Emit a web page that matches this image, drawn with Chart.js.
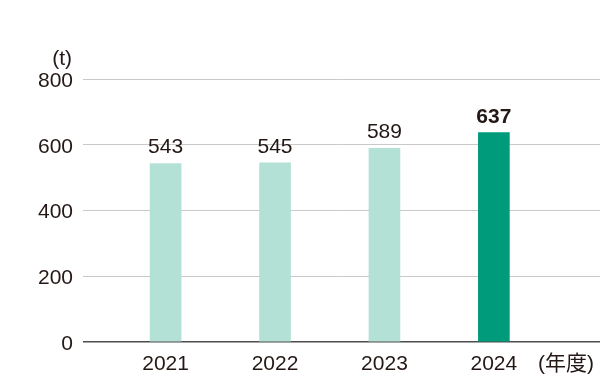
<!DOCTYPE html>
<html>
<head>
  <meta charset="UTF-8" />
  <title>Volume by fiscal year</title>
  <script src="https://cdn.jsdelivr.net/npm/chart.js"></script>
  <style>
    html, body { margin: 0; padding: 0; background: #fff; }
    #wrap { width: 600px; height: 378px; }
  </style>
</head>
<body>
  <div id="wrap"><canvas id="chart"></canvas></div>
  <script>
    const years = [2021, 2022, 2023, 2024];
    const values = [543, 545, 589, 637];
    const yTicks = [0, 200, 400, 600, 800];
    const unitLabel = '(t)';
    const yearLabel = '(年度)';

    const light = '#b3e1d6';
    const dark = '#009b7b';
    const textColor = '#231815';
    const font = 'Arial, "Liberation Sans", Helvetica, sans-serif';
    const cjkFont = 'Arial, "Noto Sans CJK JP", sans-serif';

    const extras = {
      id: 'extras',
      afterDatasetsDraw(chart) {
        const ctx = chart.ctx;
        const meta = chart.getDatasetMeta(0);
        ctx.save();
        ctx.fillStyle = textColor;
        ctx.textAlign = 'center';
        ctx.textBaseline = 'alphabetic';
        meta.data.forEach((bar, i) => {
          const last = i === values.length - 1;
          ctx.font = (last ? 'bold ' : '') + '21px ' + font;
          ctx.fillText(String(values[i]), bar.x, bar.y - 10);
        });
        ctx.font = '21px ' + font;
        ctx.textAlign = 'right';
        ctx.fillText(unitLabel, chart.chartArea.left - 11, chart.chartArea.top - 14);
        ctx.font = '21px ' + cjkFont;
        ctx.textAlign = 'left';
        ctx.textBaseline = 'middle';
        ctx.fillText(yearLabel, chart.chartArea.right - 62, chart.chartArea.bottom + 22);
        ctx.restore();
      }
    };

    new Chart(document.getElementById('chart'), {
      type: 'bar',
      data: {
        datasets: [{
          data: years.map((y, i) => ({ x: y, y: values[i] })),
          backgroundColor: years.map((y, i) => i === years.length - 1 ? dark : light),
          barThickness: 31
        }]
      },
      options: {
        responsive: true,
        maintainAspectRatio: false,
        animation: false,
        events: [],
        layout: { padding: { top: 79, right: 0, bottom: 0, left: 0 } },
        plugins: { legend: { display: false }, tooltip: { enabled: false } },
        scales: {
          x: {
            type: 'linear',
            offset: false,
            min: 2020.245,
            max: 2024.97,
            afterBuildTicks: (scale) => { scale.ticks = years.map(v => ({ value: v })); },
            afterFit: (scale) => { scale.height = 36; },
            grid: { display: false, drawTicks: false },
            border: { display: false },
            ticks: {
              padding: 10,
              color: textColor,
              font: { family: font, size: 21 },
              callback: (v) => String(v)
            }
          },
          y: {
            min: 0,
            max: 800,
            afterBuildTicks: (scale) => { scale.ticks = yTicks.map(v => ({ value: v })); },
            afterFit: (scale) => { scale.width = 83; },
            grid: {
              color: (c) => c.tick && c.tick.value === 0 ? '#4d4d4d' : '#c9c9c9',
              lineWidth: (c) => c.tick && c.tick.value === 0 ? 1.5 : 1,
              drawTicks: false
            },
            border: { display: false },
            ticks: {
              padding: 10,
              labelOffset: 2,
              color: textColor,
              font: { family: font, size: 21 }
            }
          }
        }
      },
      plugins: [extras]
    });
  </script>
</body>
</html>
